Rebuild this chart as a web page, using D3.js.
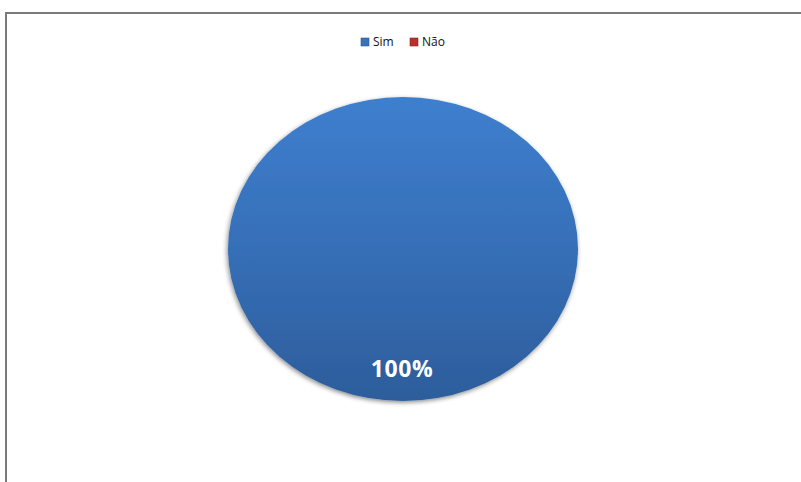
<!DOCTYPE html>
<html>
<head>
<meta charset="utf-8">
<script src="https://cdn.jsdelivr.net/npm/d3@7"></script>
<style>
  html, body { margin: 0; padding: 0; background: #ffffff; }
  svg { display: block; }
</style>
</head>
<body>
<svg id="chart" width="801" height="482"></svg>
<script>
// Survey answers
const categories = ["Sim", "Não"];
const values = [100, 0];

const width = 801, height = 482;
const svg = d3.select("#chart");

// Chart frame (runs off the right and bottom edges)
svg.append("rect")
  .attr("x", 6).attr("y", 13)
  .attr("width", 820).attr("height", 500)
  .attr("fill", "#ffffff")
  .attr("stroke", "#7a7a7a")
  .attr("stroke-width", 2);

const defs = svg.append("defs");
const grad = defs.append("linearGradient")
  .attr("id", "simGrad")
  .attr("x1", 0).attr("y1", 0).attr("x2", 0).attr("y2", 1);
grad.append("stop").attr("offset", "0%").attr("stop-color", "#3e7fcf");
grad.append("stop").attr("offset", "50%").attr("stop-color", "#366fb7");
grad.append("stop").attr("offset", "100%").attr("stop-color", "#2d5d9b");

const grad2 = defs.append("linearGradient")
  .attr("id", "naoGrad")
  .attr("x1", 0).attr("y1", 0).attr("x2", 0).attr("y2", 1);
grad2.append("stop").attr("offset", "0%").attr("stop-color", "#d13a37");
grad2.append("stop").attr("offset", "100%").attr("stop-color", "#a02826");

const shadow = defs.append("filter")
  .attr("id", "pieShadow")
  .attr("x", "-10%").attr("y", "-10%")
  .attr("width", "120%").attr("height", "125%");
shadow.append("feDropShadow")
  .attr("dx", -1).attr("dy", 2)
  .attr("stdDeviation", 2.5)
  .attr("flood-color", "#000000")
  .attr("flood-opacity", 0.45);

// Pie geometry (elliptical)
const cx = 403, cy = 249, rx = 175, ry = 152;

const pie = d3.pie().sort(null).value(d => d.value);
const data = categories.map((c, i) => ({ name: c, value: values[i] }));
const arcs = pie(data);
const total = d3.sum(values);

const arc = d3.arc().innerRadius(0).outerRadius(rx);

const pieG = svg.append("g")
  .attr("transform", `translate(${cx},${cy}) scale(1,${ry / rx})`)
  .attr("filter", "url(#pieShadow)");

const fills = ["url(#simGrad)", "url(#naoGrad)"];
pieG.selectAll("path")
  .data(arcs.filter(d => d.value > 0))
  .join("path")
  .attr("d", arc)
  .attr("fill", d => fills[d.index]);

// Data labels
const fmt = d3.format(".0%");
const labelG = svg.append("g");
arcs.filter(d => d.value > 0).forEach(d => {
  const share = d.value / total;
  let lx, ly;
  if (share >= 1) {
    lx = cx - 1; ly = cy + ry * 0.8;
  } else {
    const [ax, ay] = d3.arc().innerRadius(0).outerRadius(rx * 1.3).centroid(d);
    lx = cx + ax; ly = cy + ay * ry / rx;
  }
  labelG.append("text")
    .attr("x", lx).attr("y", ly)
    .attr("text-anchor", "middle")
    .attr("dominant-baseline", "middle")
    .attr("font-family", "'Open Sans', 'Liberation Sans', sans-serif")
    .attr("font-weight", "bold")
    .attr("font-size", 23)
    .attr("letter-spacing", 0.6)
    .attr("fill", "#ffffff")
    .text(fmt(share));
});

// Legend
const legend = svg.append("g").attr("transform", "translate(361,42)");
const legendX = [0, 49];
categories.forEach((c, i) => {
  const g = legend.append("g").attr("transform", `translate(${legendX[i]},0)`);
  g.append("rect")
    .attr("x", 0).attr("y", -4)
    .attr("width", 8).attr("height", 8)
    .attr("fill", i === 0 ? "#3a72b8" : "#b8302e")
    .attr("stroke", i === 0 ? "#2c5a94" : "#8e2220")
    .attr("stroke-width", 0.6);
  g.append("text")
    .attr("x", 12).attr("y", 1)
    .attr("dominant-baseline", "middle")
    .attr("font-family", "'Open Sans', 'Liberation Sans', sans-serif")
    .attr("font-size", 12)
    .attr("fill", "#111111")
    .text(c);
});
</script>
</body>
</html>
